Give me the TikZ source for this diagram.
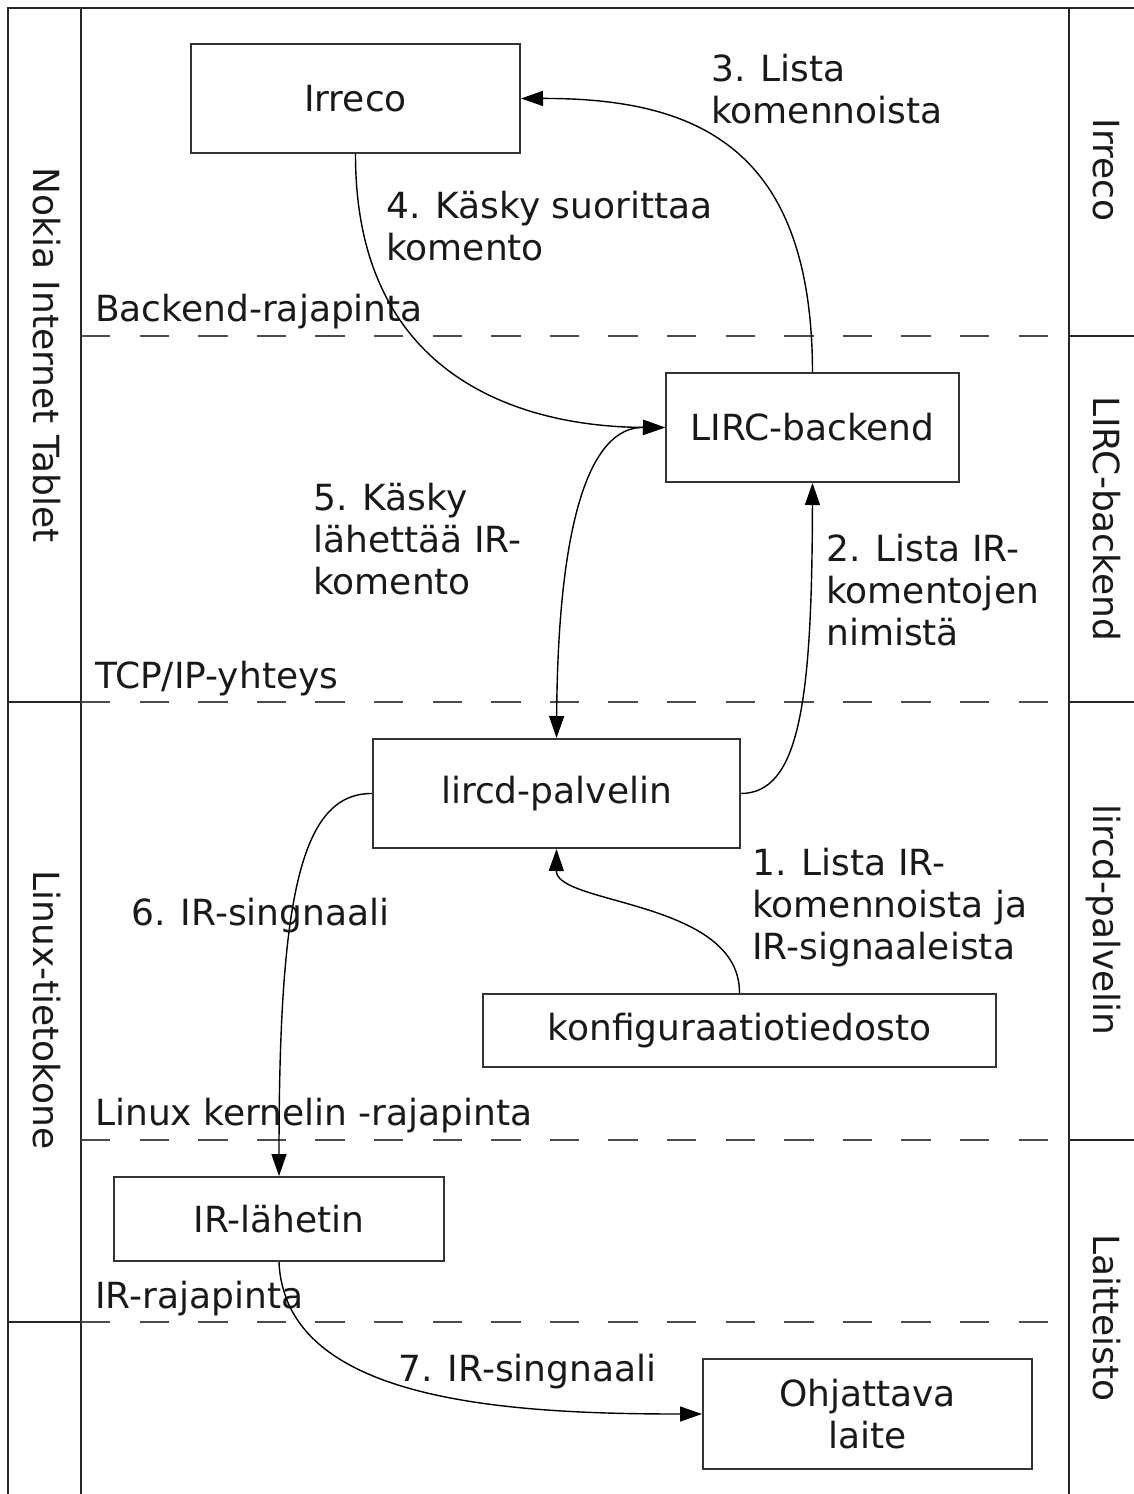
\documentclass[tikz,border=0pt]{standalone}
\usepackage{fontspec}
\setmainfont{DejaVu Sans}
\usetikzlibrary{arrows.meta}
\begin{document}
\begin{tikzpicture}[x=1pt,y=-1pt,
  every node/.style={font=\fontsize{36}{42}\selectfont, text=black!90},
  frame/.style={line width=2pt, draw=black!85},
  sep/.style={line width=1.6pt, draw=black!70, dash pattern=on 29.3pt off 29.3pt},
  box/.style={draw=black!80, line width=2pt, rectangle, inner sep=0pt, align=center},
  lbl/.style={anchor=base west, inner sep=0pt, align=left},
  side/.style={rotate=-90, anchor=base, inner sep=0pt},
  conn/.style={line width=1.4pt, draw=black},
  tip/.style={-{Triangle[length=22pt,width=15pt]}},
  tips/.style={{Triangle[length=22pt,width=15pt]}-{Triangle[length=22pt,width=15pt]}}
]
\useasboundingbox (0,0) rectangle (1134,1494);
% frame
\draw[frame] (8,1494) -- (8,8) -- (1134,8);
\draw[frame] (81,8) -- (81,1494);
\draw[frame] (1069,8) -- (1069,1494);
\draw[frame] (8,702) -- (81,702);
\draw[frame] (8,1322) -- (81,1322);
\draw[frame] (1069,336) -- (1134,336);
\draw[frame] (1069,702) -- (1134,702);
\draw[frame] (1069,1140) -- (1134,1140);
% dashed separators
\draw[sep] (81,336) -- (1069,336);
\draw[sep] (81,702) -- (1069,702);
\draw[sep] (81,1140) -- (1069,1140);
\draw[sep] (81,1322) -- (1069,1322);
% side labels
\node[side] (nit) at (33,355) {Nokia Internet Tablet};
\node[side] (lt) at (33,1010) {Linux-tietokone};
\node[side] (sirr) at (1093,170) {Irreco};
\node[side] (slb) at (1093,519) {LIRC-backend};
\node[side] (slp) at (1093,920) {lircd-palvelin};
\node[side] (slt) at (1093,1318) {Laitteisto};
% interface labels
\node[lbl] (ia) at (95,321) {Backend-rajapinta};
\node[lbl] (ib) at (95,688) {TCP/IP-yhteys};
\node[lbl] (ic) at (95,1125) {Linux kernelin -rajapinta};
\node[lbl] (id) at (95,1308) {IR-rajapinta};
% boxes
\node[box, minimum width=329pt, minimum height=109pt] (irreco) at (355.5,98.5) {Irreco};
\node[box, minimum width=293pt, minimum height=109pt] (lircb) at (812.5,427.5) {LIRC-backend};
\node[box, minimum width=367pt, minimum height=109pt] (lircd) at (556.5,793.5) {lircd-palvelin};
\node[box, minimum width=513pt, minimum height=73pt] (konf) at (739.5,1030.5) {konfiguraatiotiedosto};
\node[box, minimum width=330pt, minimum height=84pt] (irl) at (279,1219) {IR-lähetin};
\node[box, minimum width=329pt, minimum height=110pt] (ohj) at (867.5,1414) {Ohjattava\\laite};
% connectors
\draw[conn, tip] (lircb.north) .. controls (812,150) and (700,98) .. (irreco.east);
\draw[conn, tip] (irreco.south) .. controls (355,390) and (540,427) .. (lircb.west);
\draw[conn, tips] (lircd.north) .. controls (558,520) and (590,427) .. (lircb.west);
\draw[conn, tip] (lircd.east) .. controls (800,793) and (812,700) .. (lircb.south);
\draw[conn, tip] (konf.north) .. controls (740,900) and (556,905) .. (lircd.south);
\draw[conn, tip] (lircd.west) .. controls (300,793) and (279,900) .. (irl.north);
\draw[conn, tip] (irl.south) .. controls (285,1400) and (500,1414) .. (ohj.west);
% edge labels (anchor = baseline of last line)
\node[lbl] (l3) at (711,123) {3. Lista\\komennoista};
\node[lbl] (l4) at (386,260) {4. Käsky suorittaa\\komento};
\node[lbl] (l5) at (313,594) {5. Käsky\\lähettää IR-\\komento};
\node[lbl] (l2) at (826,645) {2. Lista IR-\\komentojen\\nimistä};
\node[lbl] (l1) at (752,959) {1. Lista IR-\\komennoista ja\\IR-signaaleista};
\node[lbl] (l6) at (131,925) {6. IR-singnaali};
\node[lbl] (l7) at (398,1381) {7. IR-singnaali};
\end{tikzpicture}
\end{document}
